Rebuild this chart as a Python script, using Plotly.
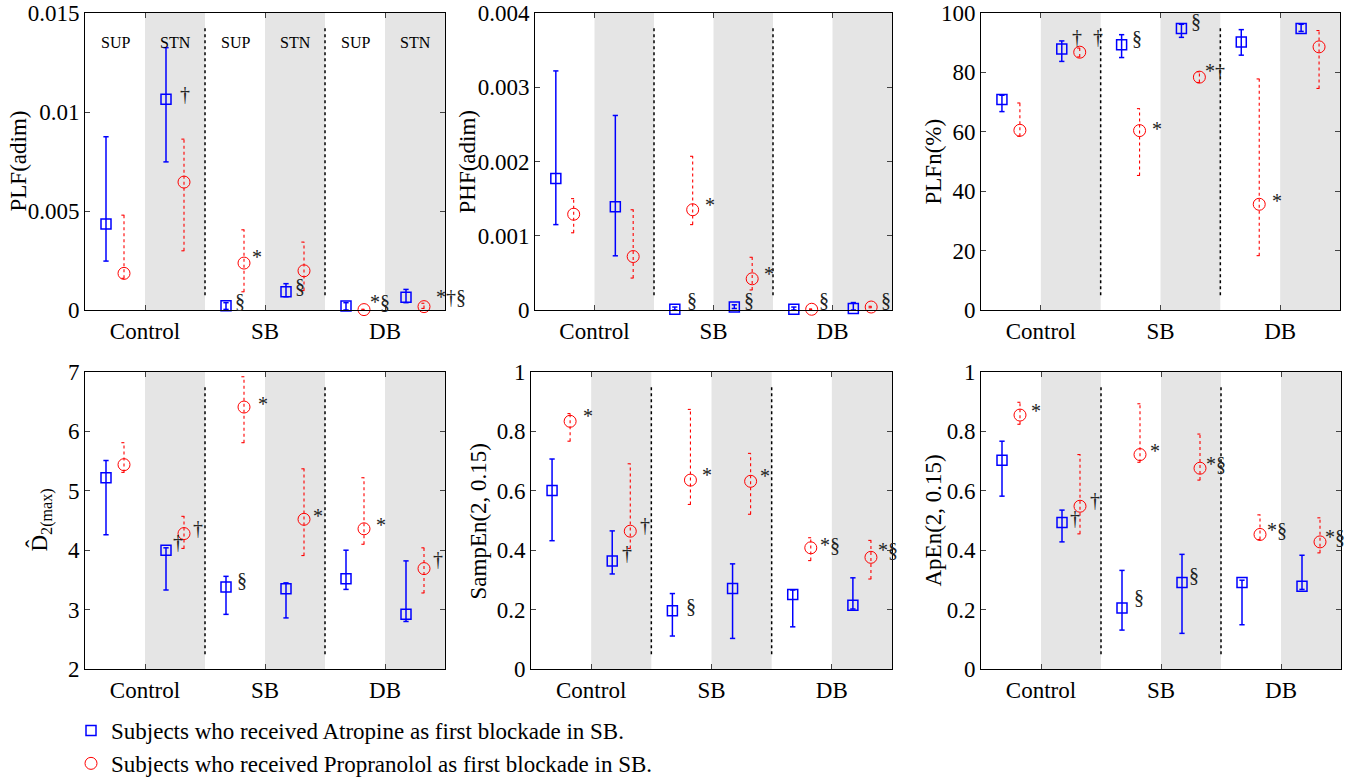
import plotly.graph_objects as go

# ---------------- data ----------------
groups = ["Control", "SB", "DB"]
phases = ["SUP", "STN"]
# order of values: Control-SUP, Control-STN, SB-SUP, SB-STN, DB-SUP, DB-STN
series_names = ["Subjects who received Atropine as first blockade in SB.",
                "Subjects who received Propranolol as first blockade in SB."]

plf_atr_mean = [0.00434, 0.01065, 0.00022, 0.00092, 0.00020, 0.00064]
plf_atr_lo = [0.00247, 0.00748, 0.00003, 0.00067, 0.00000, 0.00037]
plf_atr_hi = [0.00875, 0.01325, 0.00037, 0.00133, 0.00037, 0.00104]
plf_pro_mean = [0.00185, 0.00646, 0.00237, 0.00198, 0.00002, 0.00017]
plf_pro_lo = [0.00160, 0.00299, 0.00092, 0.00098, 0.00000, 0.00008]
plf_pro_hi = [0.00479, 0.00863, 0.00405, 0.00343, 0.00004, 0.00034]

phf_atr_mean = [0.00177, 0.00139, 0.00001, 0.00004, 0.00001, 0.00002]
phf_atr_lo = [0.00115, 0.00073, 0.00000, 0.00002, 0.00000, 0.00000]
phf_atr_hi = [0.00322, 0.00262, 0.00004, 0.00007, 0.00004, 0.00010]
phf_pro_mean = [0.00129, 0.00072, 0.00135, 0.00042, 0.00001, 0.00004]
phf_pro_lo = [0.00104, 0.00043, 0.00115, 0.00027, 0.000005, 0.00003]
phf_pro_hi = [0.00150, 0.00135, 0.00207, 0.00071, 0.000015, 0.00005]

plfn_atr_mean = [70.85, 87.9, 89.3, 94.8, 90.2, 94.8]
plfn_atr_lo = [66.8, 83.7, 85.0, 91.8, 85.8, 93.8]
plfn_atr_hi = [72.3, 90.6, 92.7, 96.2, 94.4, 96.2]
plfn_pro_mean = [60.5, 86.8, 60.4, 78.4, 35.6, 88.6]
plfn_pro_lo = [58.5, 85.2, 45.3, 76.6, 18.3, 74.6]
plfn_pro_hi = [69.7, 88.2, 67.8, 80.2, 77.8, 94.1]

d2_atr_mean = [5.22, 4.00, 3.38, 3.35, 3.52, 2.92]
d2_atr_lo = [4.26, 3.33, 2.92, 2.86, 3.34, 2.80]
d2_atr_hi = [5.51, 4.04, 3.56, 3.45, 4.00, 3.82]
d2_pro_mean = [5.44, 4.28, 6.41, 4.52, 4.36, 3.69]
d2_pro_lo = [5.31, 4.03, 5.81, 3.91, 4.10, 3.28]
d2_pro_hi = [5.81, 4.57, 6.92, 5.37, 5.22, 4.04]

sampen_atr_mean = [0.601, 0.364, 0.196, 0.271, 0.251, 0.215]
sampen_atr_lo = [0.432, 0.320, 0.111, 0.103, 0.142, 0.202]
sampen_atr_hi = [0.707, 0.465, 0.254, 0.354, 0.266, 0.307]
sampen_pro_mean = [0.834, 0.464, 0.636, 0.632, 0.408, 0.376]
sampen_pro_lo = [0.767, 0.406, 0.554, 0.521, 0.365, 0.303]
sampen_pro_hi = [0.860, 0.691, 0.874, 0.726, 0.442, 0.433]

apen_atr_mean = [0.703, 0.493, 0.205, 0.291, 0.291, 0.279]
apen_atr_lo = [0.582, 0.428, 0.131, 0.120, 0.149, 0.268]
apen_atr_hi = [0.767, 0.535, 0.332, 0.386, 0.299, 0.383]
apen_pro_mean = [0.855, 0.548, 0.722, 0.676, 0.453, 0.428]
apen_pro_lo = [0.824, 0.455, 0.696, 0.636, 0.436, 0.391]
apen_pro_hi = [0.898, 0.722, 0.893, 0.791, 0.519, 0.509]

y_titles = ["PLF(adim)", "PHF(adim)", "PLFn(%)",
            "D\u0302<sub>2(max)</sub>", "SampEn(2, 0.15)", "ApEn(2, 0.15)"]
y_ticks = [[0, 0.005, 0.01, 0.015], [0, 0.001, 0.002, 0.003, 0.004],
           [0, 20, 40, 60, 80, 100], [2, 3, 4, 5, 6, 7],
           [0, 0.2, 0.4, 0.6, 0.8, 1], [0, 0.2, 0.4, 0.6, 0.8, 1]]
y_ticktext = [["0", "0.005", "0.01", "0.015"], ["0", "0.001", "0.002", "0.003", "0.004"],
              ["0", "20", "40", "60", "80", "100"], ["2", "3", "4", "5", "6", "7"],
              ["0", "0.2", "0.4", "0.6", "0.8", "1"], ["0", "0.2", "0.4", "0.6", "0.8", "1"]]

# significance marks: (panel, slot, series 0=atropine 1=propranolol, text, xshift px, yshift px)
marks = [
    (0, 1, 0, "\u2020", 12, 5), (0, 2, 0, "\u00a7", 7, 5), (0, 2, 1, "*", 6, 6),
    (0, 3, 0, "\u00a7", 7, 6), (0, 4, 1, "*\u00a7", 4, 8), (0, 5, 1, "*\u2020\u00a7", 10, 10),
    (1, 2, 1, "*", 10, 5), (1, 3, 1, "*", 10, 5), (1, 2, 0, "\u00a7", 10, 9),
    (1, 3, 0, "\u00a7", 8, 7), (1, 4, 1, "\u00a7", 5, 9), (1, 5, 1, "\u00a7", 8, 7),
    (2, 1, 0, "\u2020", 8, 12), (2, 1, 1, "\u2020", 11, 15), (2, 2, 0, "\u00a7", 8, 7),
    (2, 3, 0, "\u00a7", 8, 7), (2, 3, 1, "*\u2020", 4, 6), (2, 2, 1, "*", 10, 2),
    (2, 4, 1, "*", 11, 3),
    (3, 2, 1, "*", 12, 3), (3, 3, 1, "*", 7, 3), (3, 4, 1, "*", 10, 4),
    (3, 1, 0, "\u2020", 5, 8), (3, 1, 1, "\u2020", 7, 6), (3, 2, 0, "\u00a7", 9, 7),
    (3, 5, 1, "\u2020", 7, 10),
    (4, 0, 1, "*", 11, 5), (4, 1, 0, "\u2020", 8, 8), (4, 1, 1, "\u2020", 8, 6),
    (4, 2, 0, "\u00a7", 12, 5), (4, 2, 1, "*", 10, 5), (4, 3, 1, "*", 7, 5),
    (4, 4, 1, "*\u00a7", 7, 3), (4, 5, 1, "*\u00a7", 5, 7),
    (5, 0, 1, "*", 9, 4), (5, 1, 0, "\u2020", 6, 5), (5, 1, 1, "\u2020", 8, 6),
    (5, 2, 0, "\u00a7", 10, 11), (5, 2, 1, "*", 8, 4), (5, 3, 0, "\u00a7", 5, 8),
    (5, 3, 1, "*\u00a7", 4, 4), (5, 4, 1, "*\u00a7", 5, 4), (5, 5, 1, "*\u00a7", 3, 5),
]

# ---------------- figure ----------------
W, H = 1351, 780
FONT = "Liberation Serif, Times New Roman, serif"
BLUE, RED = "#0000ff", "#ff0000"

panels = [
    (plf_atr_mean, plf_atr_lo, plf_atr_hi, plf_pro_mean, plf_pro_lo, plf_pro_hi),
    (phf_atr_mean, phf_atr_lo, phf_atr_hi, phf_pro_mean, phf_pro_lo, phf_pro_hi),
    (plfn_atr_mean, plfn_atr_lo, plfn_atr_hi, plfn_pro_mean, plfn_pro_lo, plfn_pro_hi),
    (d2_atr_mean, d2_atr_lo, d2_atr_hi, d2_pro_mean, d2_pro_lo, d2_pro_hi),
    (sampen_atr_mean, sampen_atr_lo, sampen_atr_hi, sampen_pro_mean, sampen_pro_lo, sampen_pro_hi),
    (apen_atr_mean, apen_atr_lo, apen_atr_hi, apen_pro_mean, apen_pro_lo, apen_pro_hi),
]
x_px = [(85, 445), (535, 892), (981, 1340), (85, 445), (531, 892), (981, 1341)]
y_px = [(13, 310)] * 3 + [(372, 669)] * 3
title_px = [18, 467, 933, 40, 478, 933]


def slot_x(slot, series):
    g = slot // 2 + 1
    half = slot % 2
    base = g - 0.25 if half == 0 else g + 0.25
    return base - 0.075 if series == 0 else base + 0.075


fig = go.Figure()
cap = 0.022
layout = dict(width=W, height=H, margin=dict(l=0, r=0, t=0, b=0, autoexpand=False),
              paper_bgcolor="white", plot_bgcolor="white",
              font=dict(family=FONT, size=23, color="black"),
              showlegend=True, shapes=[], annotations=[])

for p, arrs in enumerate(panels):
    n = "" if p == 0 else str(p + 1)
    xa, ya = "x" + n, "y" + n
    for s in range(2):
        mean, lo, hi = arrs[3 * s], arrs[3 * s + 1], arrs[3 * s + 2]
        xs = [slot_x(k, s) for k in range(6)]
        ex, ey = [], []
        for k in range(6):
            ex += [xs[k], xs[k], None, xs[k] - cap, xs[k] + cap, None, xs[k] - cap, xs[k] + cap, None]
            ey += [lo[k], hi[k], None, hi[k], hi[k], None, lo[k], lo[k], None]
        color = BLUE if s == 0 else RED
        fig.add_trace(go.Scatter(
            x=ex, y=ey, mode="lines", xaxis=xa, yaxis=ya, showlegend=False, hoverinfo="skip",
            line=dict(color=color, width=1.5 if s == 0 else 1.1, dash="solid" if s == 0 else "dot")))
        fig.add_trace(go.Scatter(
            x=xs, y=mean, mode="markers", xaxis=xa, yaxis=ya, cliponaxis=False,
            name=series_names[s], showlegend=(p == 0),
            marker=dict(symbol="square-open" if s == 0 else "circle-open",
                        size=10 if s == 0 else 12, color=color,
                        line=dict(color=color, width=1.5 if s == 0 else 1.0))))

    x0, x1 = x_px[p]
    y0, y1 = y_px[p]
    layout["xaxis" + n] = dict(
        domain=[x0 / W, x1 / W], range=[0.5, 3.5], anchor=ya, automargin=False,
        tickvals=[1, 2, 3], ticktext=groups, ticks="inside", ticklen=5,
        showline=True, linecolor="black", linewidth=1, mirror="ticks",
        showgrid=False, zeroline=False, tickfont=dict(size=23))
    layout["yaxis" + n] = dict(
        domain=[1 - y1 / H, 1 - y0 / H], range=[y_ticks[p][0], y_ticks[p][-1]], anchor=xa,
        automargin=False,
        tickvals=y_ticks[p], ticktext=y_ticktext[p], ticks="inside", ticklen=5,
        showline=True, linecolor="black", linewidth=1, mirror="ticks",
        showgrid=False, zeroline=False, tickfont=dict(size=23))
    # y-axis title
    layout["annotations"].append(dict(
        x=title_px[p] / W, y=1 - (y0 + y1) / 2 / H, xref="paper", yref="paper",
        text=y_titles[p], textangle=-90, showarrow=False, xanchor="center", yanchor="middle",
        font=dict(size=23, family=FONT, color="black")))
    # shaded STN halves
    for g in range(1, 4):
        layout["shapes"].append(dict(
            type="rect", xref=xa, yref=ya + " domain", x0=g, x1=g + 0.5, y0=0, y1=1,
            fillcolor="#e5e5e5", line=dict(width=0), layer="below"))
    # dotted separators
    for xb in (1.5, 2.5):
        layout["shapes"].append(dict(
            type="line", xref=xa, yref=ya + " domain", x0=xb, x1=xb, y0=0.05, y1=0.953,
            line=dict(color="black", width=1.5, dash="dot"), layer="above"))

# SUP / STN labels in first panel
for g in range(1, 4):
    for h, ph in enumerate(phases):
        layout["annotations"].append(dict(
            x=g - 0.25 + 0.5 * h, y=0.936, xref="x", yref="y domain", text=ph,
            showarrow=False, font=dict(size=16, family=FONT, color="black")))

# significance marks
for (p, k, s, txt, dx, dy) in marks:
    n = "" if p == 0 else str(p + 1)
    arr = panels[p][3 * s]
    layout["annotations"].append(dict(
        x=slot_x(k, s), y=arr[k], xref="x" + n, yref="y" + n, text=txt,
        showarrow=False, xanchor="left", yanchor="middle", xshift=dx, yshift=dy,
        font=dict(size=20, family=FONT, color="#222222")))

layout["legend"] = dict(x=71 / W, y=1 - 709 / H, xanchor="left", yanchor="top",
                        bgcolor="rgba(0,0,0,0)", font=dict(size=23, family=FONT),
                        tracegroupgap=0, itemsizing="trace")
fig.update_layout(**layout)
fig.write_html("out.html", config={"displayModeBar": False},
               post_script="document.body.style.margin='0';document.body.style.overflow='hidden';")
